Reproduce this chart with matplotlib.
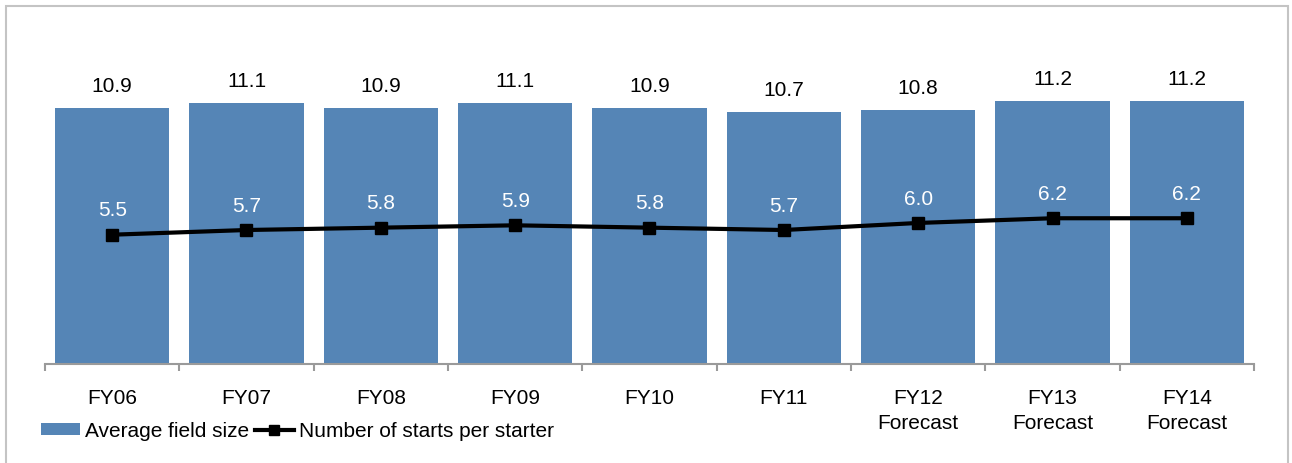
import matplotlib
matplotlib.use("Agg")
import matplotlib.pyplot as plt
from matplotlib.patches import Rectangle
import numpy as np

plt.rcParams['font.family'] = ['Liberation Sans', 'DejaVu Sans']

categories = ["FY06", "FY07", "FY08", "FY09", "FY10", "FY11",
              "FY12\nForecast", "FY13\nForecast", "FY14\nForecast"]
field_size = [10.9, 11.1, 10.9, 11.1, 10.9, 10.7, 10.8, 11.2, 11.2]
starts_per_starter = [5.5, 5.7, 5.8, 5.9, 5.8, 5.7, 6.0, 6.2, 6.2]

bar_color = "#5585B6"
axis_gray = "#9A9A9A"
W, H = 1292, 464

fig = plt.figure(figsize=(W / 100, H / 100), dpi=100)
ax = fig.add_axes([45 / W, 1 - 365 / H, (1254 - 45) / W, (365 - 50) / H])

x = np.arange(len(categories))
bars = ax.bar(x, field_size, width=0.85, color=bar_color, zorder=2,
              label="Average field size")
line, = ax.plot(x, starts_per_starter, color="black", lw=3, marker="s",
                markersize=8, zorder=3, label="Number of starts per starter")

for xi, v in zip(x, field_size):
    ax.annotate(f"{v:.1f}", (xi, v), xytext=(0, 9.5), textcoords="offset points",
                ha="center", va="bottom", fontsize=15, color="black")
for xi, v in zip(x, starts_per_starter):
    ax.annotate(f"{v:.1f}", (xi, v), xytext=(0, 11), textcoords="offset points",
                ha="center", va="bottom", fontsize=15, color="white")

ax.set_xlim(-0.5, len(categories) - 0.5)
ax.set_ylim(0, 13.4)
ax.set_yticks([])
for side in ("top", "right", "left"):
    ax.spines[side].set_visible(False)
ax.spines["bottom"].set_color(axis_gray)
ax.spines["bottom"].set_linewidth(1.5)

ax.set_xticks(x)
ax.set_xticklabels(categories, fontsize=15, linespacing=1.35)
ax.tick_params(axis="x", which="major", length=0, pad=17.5)
ax.set_xticks(np.arange(-0.5, len(categories), 1.0), minor=True)
ax.tick_params(axis="x", which="minor", length=5, width=1.5, color=axis_gray,
               direction="out")

fig.legend(handles=[bars, line], loc="center left",
           bbox_to_anchor=(41 / W, 1 - 432 / H), ncol=2, frameon=False,
           fontsize=15, handlelength=1.85, handleheight=0.5, handletextpad=0.25,
           columnspacing=0.3, borderaxespad=0, borderpad=0, markerscale=0.85)

fig.patches.append(Rectangle((6 / W, -0.02), (1288 - 6) / W, 1 - 7 / H + 0.02,
                             transform=fig.transFigure, fill=False,
                             edgecolor="#C4C4C4", lw=1.5))

fig.savefig("out.png", dpi=100)
